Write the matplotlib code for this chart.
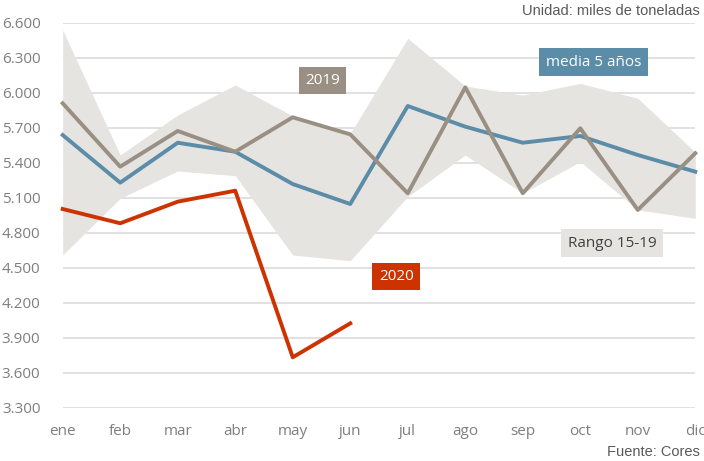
import numpy as np
import matplotlib.pyplot as plt

meses = ['ene', 'feb', 'mar', 'abr', 'may', 'jun', 'jul', 'ago', 'sep', 'oct', 'nov', 'dic']
media5 = [5637, 5229, 5571, 5494, 5217, 5046, 5886, 5709, 5571, 5629, 5466, 5323]
y2019 = [5909, 5366, 5672, 5494, 5789, 5643, 5138, 6046, 5138, 5695, 4995, 5481]
y2020 = [5003, 4881, 5066, 5160, 3732, 4023]
rango_max = [6537, 5466, 5809, 6066, 5800, 5650, 6466, 6057, 5980, 6080, 5952, 5490]
rango_min = [4609, 5095, 5329, 5289, 4609, 4560, 5110, 5466, 5138, 5409, 4995, 4923]
yticks = [3300, 3600, 3900, 4200, 4500, 4800, 5100, 5400, 5700, 6000, 6300, 6600]

c_blue = '#5B8CA8'
c_brown = '#9A8F83'
c_red = '#CC3300'
c_band = '#E6E4E1'
c_text = '#7F7F7F'

fig = plt.figure(figsize=(7.04, 4.61), dpi=100)
ax = fig.add_axes([62.7 / 704, 1 - 407.7 / 461, 632.6 / 704, 385 / 461])

x = np.arange(len(meses))
ax.fill_between(x, rango_min, rango_max, color=c_band, lw=0, zorder=1)
ax.plot(x, media5, color=c_blue, lw=2.8, zorder=3, clip_on=False)
ax.plot(x, y2019, color=c_brown, lw=2.8, zorder=4, clip_on=False)
ax.plot(x[:len(y2020)], y2020, color=c_red, lw=2.8, zorder=5, clip_on=False)

ax.set_xlim(0, 11)
ax.set_ylim(3300, 6600)
ax.set_yticks(yticks)
ax.set_yticklabels([f'{v:,}'.replace(',', '.') for v in yticks])
ax.set_xticks(x)
ax.set_xticklabels(meses)
ax.yaxis.grid(True, color='#D9D9D9', lw=1.1, zorder=0)
ax.set_axisbelow(True)
for s in ax.spines.values():
    s.set_visible(False)
ax.tick_params(length=0, labelsize=11, labelcolor=c_text)
ax.tick_params(axis='y', pad=16)
ax.tick_params(axis='x', pad=12)
for lab in ax.get_xticklabels() + ax.get_yticklabels():
    lab.set_fontfamily('Open Sans')

box = dict(boxstyle='square,pad=0.42', lw=0)
ax.text(4.52, 6105, '2019', color='white', fontsize=11, family='Open Sans',
        ha='center', va='center', bbox={**box, 'fc': c_brown}, zorder=6)
ax.text(9.23, 6262, 'media 5 años', color='white', fontsize=11, family='Open Sans',
        ha='center', va='center', bbox={**box, 'fc': c_blue}, zorder=6)
ax.text(9.55, 4710, 'Rango 15-19', color='#404040', fontsize=11, family='Open Sans',
        ha='center', va='center', bbox={**box, 'fc': c_band}, zorder=6)
ax.text(5.8, 4425, '2020', color='white', fontsize=11, family='Open Sans',
        ha='center', va='center', bbox={**box, 'fc': c_red}, zorder=6)

fig.text(700 / 704, 1 - 11 / 461, 'Unidad: miles de toneladas', ha='right', va='center',
         fontsize=10.5, color='#595959', family='Liberation Sans')
fig.text(700 / 704, 1 - 452 / 461, 'Fuente: Cores', ha='right', va='center',
         fontsize=10.5, color='#595959', family='Liberation Sans')

fig.savefig('out.png', dpi=100)
